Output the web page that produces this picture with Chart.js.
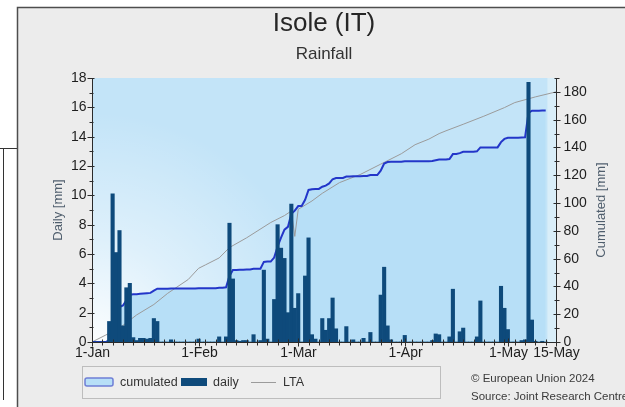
<!DOCTYPE html>
<html>
<head>
<meta charset="utf-8">
<title>Isole (IT) – Rainfall</title>
<script src="https://cdn.jsdelivr.net/npm/chart.js@4/dist/chart.umd.min.js"></script>
<style>
  html, body { margin: 0; padding: 0; background: #ffffff; }
  #wrap { position: absolute; left: 0; top: 0; width: 625px; height: 407px; }
</style>
</head>
<body>
<div id="wrap"><canvas id="rain" width="625" height="407"></canvas></div>
<script>
// Day index 0 = 1 January 2024 (leap year), last tick = 15 May.
const monthTicks = [0, 31, 60, 91, 121, 135];
const monthTickLabels = ['1-Jan', '1-Feb', '1-Mar', '1-Apr', '1-May', '15-May'];

// Daily rainfall [mm], 1 Jan .. 12 May
const dailyRain = [
  0, 0, 0, 0, 0, 1.4, 10.1, 6.1, 7.6, 1.1,          // 1-10 Jan
  3.7, 4.0, 0.3, 0.1, 0.25, 0.25, 0.2, 0.25, 1.6, 1.4, // 11-20 Jan
  0, 0, 0, 0.15, 0, 0, 0, 0, 0, 0,                   // 21-30 Jan
  0, 0.2, 0, 0, 0, 0, 0, 0.35, 0, 0.35,              // 31 Jan - 9 Feb
  8.1, 4.3, 0.1, 0.05, 0.1, 0.1, 0, 0.5, 0, 0.1,     // 10-19 Feb
  4.9, 0.2, 0, 2.9, 8.0, 6.4, 5.7, 2.0, 9.4, 2.3,    // 20-29 Feb
  3.3, 0, 4.5, 7.1, 0.5, 0.2, 0, 1.6, 0.8, 1.6,      // 1-10 Mar
  3.0, 0.9, 0, 0, 1.05, 0, 0.15, 0, 0, 0.25,         // 11-20 Mar
  0, 0.65, 0, 0, 3.2, 5.1, 1.1, 0.15, 0, 0,          // 21-30 Mar
  0, 0.45, 0, 0, 0, 0, 0, 0, 0, 0.1,                 // 31 Mar - 9 Apr
  0.55, 0.5, 0, 0, 0.35, 3.6, 0, 0.7, 0.95, 0,       // 10-19 Apr
  0, 0, 0.35, 2.8, 0, 0, 0, 0, 0, 3.8,               // 20-29 Apr
  2.3, 0.85, 0, 0, 0, 0.1, 0.15, 17.7, 1.5, 0.05,    // 30 Apr - 9 May
  0, 0.05, 0                                          // 10-12 May
];

// Long-term average of the cumulated rainfall [mm]
const ltaDays   = [0, 4, 8, 13, 18, 22, 28, 31, 33, 37, 40, 45, 52, 56, 58, 59, 60, 64, 67, 72, 78, 84, 90, 94, 98, 101, 103, 108, 114, 120, 123, 129, 135];
const ltaValues = [0, 5, 10, 19.5, 27, 35, 45, 53, 55.5, 60.5, 68, 75, 86, 91, 94.3, 76, 95.5, 101.5, 107, 114.7, 120.5, 128, 135.5, 142, 146, 150, 152, 156.7, 162.5, 168.7, 172.3, 176.4, 180];

// Running total of the daily values
const cumulated = [];
dailyRain.reduce((sum, v, i) => { cumulated[i] = +(sum + v).toFixed(2); return sum + v; }, 0);

const FONT = '"Liberation Sans", Arial, sans-serif';
const COL_BAR = '#0e4a7b';
const COL_CUM_LINE = '#2336c9';
const COL_CUM_FILL = '#b7dff7';
const COL_LTA = '#9b9b9b';

function hline(ctx, x1, x2, y) { ctx.beginPath(); ctx.moveTo(x1, y); ctx.lineTo(x2, y); ctx.stroke(); }
function vline(ctx, x, y1, y2) { ctx.beginPath(); ctx.moveTo(x, y1); ctx.lineTo(x, y2); ctx.stroke(); }

// Page, panel, plot background and the band of days without observations
const backdrop = {
  id: 'backdrop',
  beforeDraw(chart) {
    const { ctx, chartArea: a, scales: { x } } = chart;
    const W = chart.width, H = chart.height;
    ctx.save();
    ctx.fillStyle = '#ffffff';
    ctx.fillRect(0, 0, W, H);
    ctx.strokeStyle = '#333333';
    ctx.lineWidth = 1;
    vline(ctx, 3.5, 148, 400);
    hline(ctx, 0, 17, 148.5);

    ctx.fillStyle = '#ececec';
    ctx.fillRect(17, 7, W - 17, H - 7);
    ctx.strokeStyle = '#4d4d4d';
    ctx.lineWidth = 1.5;
    ctx.beginPath(); ctx.moveTo(17.5, H); ctx.lineTo(17.5, 7.5); ctx.lineTo(W, 7.5); ctx.stroke();

    ctx.fillStyle = '#c3e4f8';
    ctx.fillRect(a.left, a.top, a.width, a.height);
    const glow = ctx.createRadialGradient(a.left, a.bottom, 0, a.left, a.bottom, 230);
    glow.addColorStop(0, 'rgba(255,255,255,0.95)');
    glow.addColorStop(0.45, 'rgba(255,255,255,0.45)');
    glow.addColorStop(1, 'rgba(255,255,255,0)');
    ctx.fillStyle = glow;
    ctx.fillRect(a.left, a.top, a.width, a.height);

    const xEnd = x.getPixelForValue(dailyRain.length - 0.5);
    ctx.fillStyle = '#d9eef9';
    ctx.fillRect(xEnd, a.top, a.right - xEnd, a.height);
    ctx.restore();
  }
};

// Axes with crossing tick marks, titles, legend and credits
const furniture = {
  id: 'furniture',
  afterDraw(chart) {
    const { ctx, chartArea: a, scales: { x, yDaily, yCum } } = chart;
    ctx.save();
    ctx.strokeStyle = '#2b2b2b';
    ctx.lineWidth = 1;
    const L = Math.round(a.left) + 0.5, R = Math.round(a.right) + 0.5, B = Math.round(a.bottom) + 0.5;
    vline(ctx, L, a.top, B);
    vline(ctx, R, a.top, B);
    hline(ctx, L, R, B);

    ctx.fillStyle = '#1e1e1e';
    ctx.font = '14px ' + FONT;
    ctx.textBaseline = 'middle';

    // left axis: daily
    ctx.textAlign = 'right';
    for (let v = 0; v <= 18; v++) {
      const y = Math.round(yDaily.getPixelForValue(v)) + 0.5;
      if (v % 2 === 0) { hline(ctx, L - 5, L + 2, y); ctx.fillText(String(v), L - 6, y); }
      else hline(ctx, L - 3, L + 1, y);
    }
    // right axis: cumulated
    ctx.textAlign = 'left';
    for (let v = 0; v <= 190; v += 10) {
      const y = Math.round(yCum.getPixelForValue(v)) + 0.5;
      if (v % 20 === 0) { hline(ctx, R - 3, R + 4, y); ctx.fillText(String(v), R + 7, y); }
      else hline(ctx, R - 2, R + 3, y);
    }
    // bottom axis: dates
    for (let d = 0; d <= 135; d += 3) {
      const px = Math.round(x.getPixelForValue(d)) + 0.5;
      vline(ctx, px, B - 3, B + 3);
    }
    ctx.textAlign = 'center';
    ctx.textBaseline = 'top';
    monthTicks.forEach((d, i) => {
      const px = Math.round(x.getPixelForValue(d)) + 0.5;
      vline(ctx, px, B - 4, B + 4);
      ctx.fillText(monthTickLabels[i], px, B + 4);
    });

    // axis titles
    ctx.fillStyle = '#4f5e6d';
    ctx.font = '13px ' + FONT;
    ctx.textBaseline = 'middle';
    ctx.textAlign = 'center';
    ctx.save(); ctx.translate(58, 210); ctx.rotate(-Math.PI / 2); ctx.fillText('Daily [mm]', 0, 0); ctx.restore();
    ctx.save(); ctx.translate(601, 210); ctx.rotate(-Math.PI / 2); ctx.fillText('Cumulated [mm]', 0, 0); ctx.restore();

    // title and subtitle
    const cx = (a.left + a.right) / 2;
    ctx.fillStyle = '#262626';
    ctx.font = '26px ' + FONT;
    ctx.fillText('Isole (IT)', cx, 24);
    ctx.fillStyle = '#333333';
    ctx.font = '17px ' + FONT;
    ctx.fillText('Rainfall', cx, 54);

    // legend
    ctx.fillStyle = '#eeeeee';
    ctx.fillRect(82, 366, 358, 32);
    ctx.strokeStyle = '#bdbdbd';
    ctx.strokeRect(82.5, 366.5, 358, 32);
    const ly = 382;
    const ds = chart.data.datasets;
    const cum = ds.find(d => d.label === 'cumulated');
    const bar = ds.find(d => d.label === 'daily');
    const lta = ds.find(d => d.label === 'LTA');
    ctx.fillStyle = cum.backgroundColor;
    ctx.strokeStyle = '#6f7fd6';
    ctx.lineWidth = 1.5;
    ctx.beginPath(); ctx.roundRect(85, ly - 4, 28, 8, 2); ctx.fill(); ctx.stroke();
    ctx.fillStyle = bar.backgroundColor;
    ctx.fillRect(181, ly - 4, 26, 8);
    ctx.strokeStyle = lta.borderColor;
    ctx.lineWidth = 1;
    hline(ctx, 251, 276, ly + 0.5);
    ctx.fillStyle = '#333333';
    ctx.font = '12.5px ' + FONT;
    ctx.textAlign = 'left';
    ctx.fillText('cumulated', 120, ly + 1);
    ctx.fillText('daily', 213, ly + 1);
    ctx.fillText('LTA', 283, ly + 1);

    // credits
    ctx.font = '11.5px ' + FONT;
    ctx.fillStyle = '#3a3a3a';
    ctx.fillText('\u00A9 European Union 2024', 471, 379);
    ctx.fillText('Source: Joint Research Centre', 471, 397);
    ctx.restore();
  }
};

new Chart(document.getElementById('rain'), {
  data: {
    datasets: [
      {
        type: 'bar', label: 'daily', yAxisID: 'yDaily', order: 0,
        data: dailyRain.map((v, i) => ({ x: i, y: v })),
        backgroundColor: COL_BAR, borderWidth: 0,
        barPercentage: 1, categoryPercentage: 1
      },
      {
        type: 'line', label: 'cumulated', yAxisID: 'yCum', order: 1,
        data: cumulated.map((v, i) => ({ x: i, y: v })),
        borderColor: COL_CUM_LINE, borderWidth: 2, backgroundColor: COL_CUM_FILL,
        fill: 'origin', pointRadius: 0, tension: 0
      },
      {
        type: 'line', label: 'LTA', yAxisID: 'yCum', order: 2,
        data: ltaDays.map((d, i) => ({ x: d, y: ltaValues[i] })),
        borderColor: COL_LTA, borderWidth: 1, fill: false, pointRadius: 0, tension: 0
      }
    ]
  },
  options: {
    responsive: false,
    animation: false,
    devicePixelRatio: 1,
    layout: { padding: { left: 92, right: 69, top: 78, bottom: 65 } },
    scales: {
      x: { type: 'linear', min: 0, max: 135, offset: false, display: false },
      yDaily: { type: 'linear', position: 'left', min: 0, max: 18, display: false },
      yCum: { type: 'linear', position: 'right', min: 0, max: 190, display: false }
    },
    plugins: {
      legend: { display: false },
      tooltip: { enabled: false },
      filler: { drawTime: 'beforeDatasetsDraw' }
    }
  },
  plugins: [backdrop, furniture]
});
</script>
</body>
</html>
